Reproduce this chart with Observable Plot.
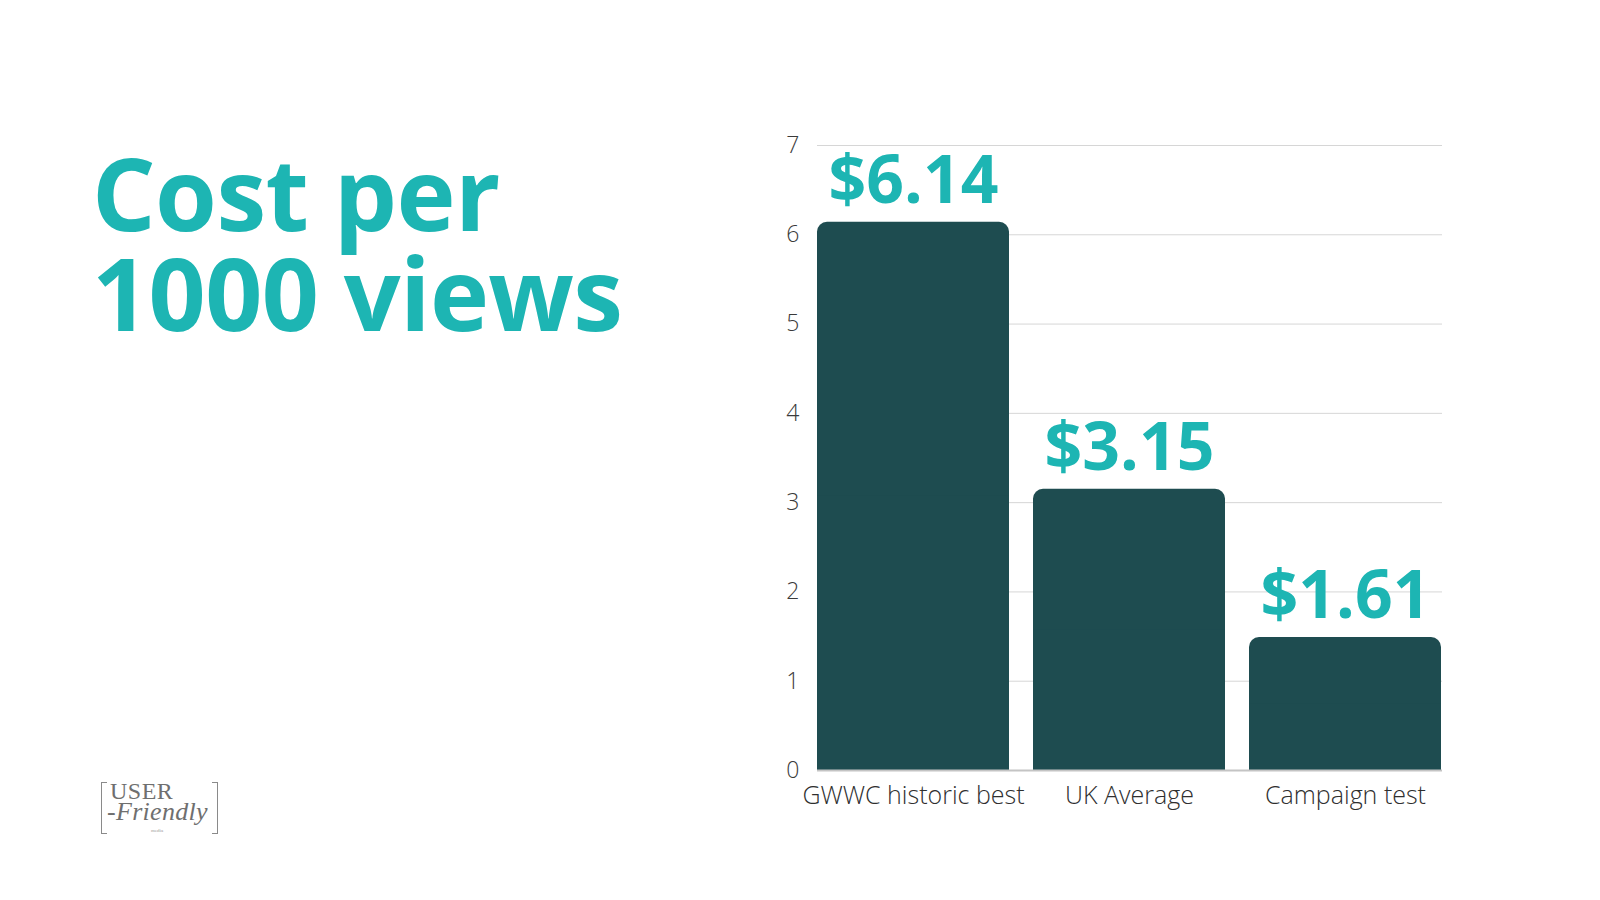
<!DOCTYPE html>
<html>
<head>
<meta charset="utf-8">
<script src="https://cdn.jsdelivr.net/npm/d3@7"></script>
<script src="https://cdn.jsdelivr.net/npm/@observablehq/plot@0.6"></script>
<style>
  html, body { margin: 0; padding: 0; background: #fff; }
  #page { position: relative; width: 1600px; height: 900px; overflow: hidden; background: #fff; font-family: 'Open Sans', sans-serif; }
  #title { position: absolute; left: 92px; top: 142px; margin: 0; font-size: 100px; line-height: 100px; font-weight: 700; color: #1db5b3; letter-spacing: -0.6px; }
  #chart { position: absolute; left: 0; top: 0; }
  #logo { position: absolute; left: 101px; top: 782px; width: 117px; height: 52px; color: #6f6f6f; font-family: 'Liberation Serif', 'DejaVu Serif', serif; }
  #logo .bl, #logo .br { position: absolute; top: 0; width: 5px; height: 50px; border-top: 1.5px solid #8a8a8a; border-bottom: 1.5px solid #8a8a8a; }
  #logo .bl { left: 0; border-left: 1.5px solid #8a8a8a; }
  #logo .br { right: 0; border-right: 1.5px solid #8a8a8a; }
  #logo .u { position: absolute; left: 9px; top: -1px; font-size: 24px; line-height: 20px; letter-spacing: 0.5px; }
  #logo .f { position: absolute; left: 6px; top: 19px; font-size: 26px; line-height: 22px; font-style: italic; letter-spacing: 0.3px; }
  #logo .m { position: absolute; left: 50px; top: 46px; font-size: 5px; line-height: 5px; color: #999; }
</style>
</head>
<body>
<div id="page">
  <h1 id="title">Cost per<br>1000 views</h1>
  <div id="chart"></div>
  <div id="logo">
    <div class="bl"></div><div class="br"></div>
    <div class="u">USER</div>
    <div class="f">-Friendly</div>
    <div class="m">media</div>
  </div>
</div>
<script>
const categories = ["GWWC historic best", "UK Average", "Campaign test"];
const barValues = [6.14, 3.15, 1.49];
const valueLabels = ["$6.14", "$3.15", "$1.61"];
const yTicks = [0, 1, 2, 3, 4, 5, 6, 7];

const barColor = "#1e4c50";
const teal = "#1db5b3";

const data = categories.map((c, i) => ({category: c, value: barValues[i], label: valueLabels[i]}));

const chart = Plot.plot({
  width: 1600,
  height: 900,
  marginLeft: 817,
  marginRight: 158,
  marginTop: 145,
  marginBottom: 130,
  style: {fontFamily: "'Open Sans', sans-serif", background: "transparent"},
  x: {domain: categories, paddingInner: 0.11, paddingOuter: 0, label: null},
  y: {domain: [0, 7], ticks: yTicks, label: null},
  marks: [
    Plot.gridY(yTicks, {stroke: "#d6d6d6", strokeOpacity: 1, strokeWidth: 1}),
    Plot.axisY({ticks: yTicks, tickFormat: d3.format("d"), tickSize: 0, tickPadding: 18, fontSize: 23, fontWeight: 300, fill: "#3a3a3a", label: null}),
    Plot.axisX({tickSize: 0, tickPadding: 16, fontSize: 25, fontWeight: 300, fill: "#2f2f2f", label: null}),
    Plot.barY(data, {x: "category", y: "value", fill: barColor, rx: 10}),
    Plot.barY(data, {x: "category", y1: 0, y2: d => d.value / 2, fill: barColor}),
    Plot.ruleY([0], {stroke: "#c4c4c4", strokeWidth: 2}),
    Plot.text(data, {x: "category", y: "value", text: "label", lineAnchor: "bottom", dy: -19, fontSize: 66, fontWeight: 700, fill: teal})
  ]
});
document.getElementById("chart").appendChild(chart);
</script>
</body>
</html>
